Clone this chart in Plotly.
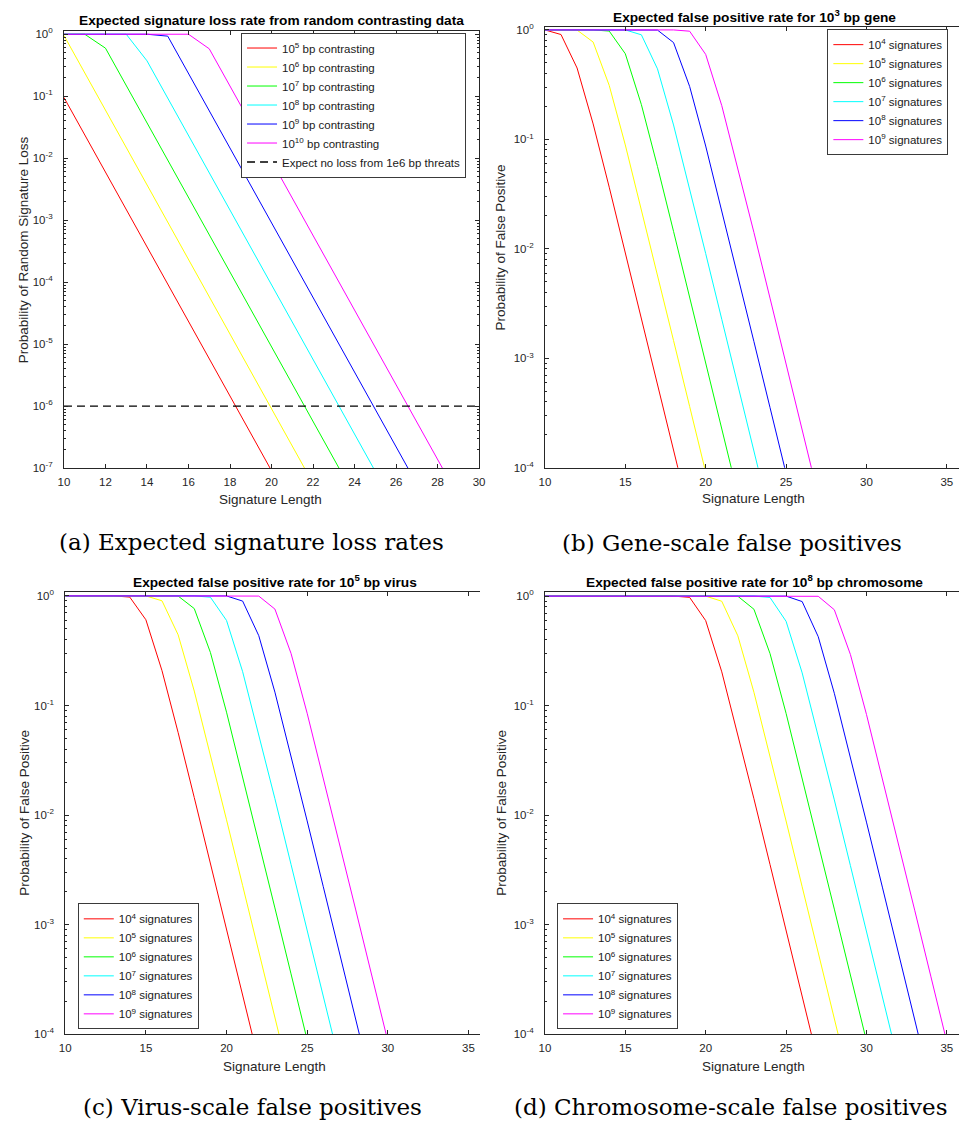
import plotly.graph_objects as go

# ------------------------------------------------------------------ data
# Signature length (x) shared by all panels; each series starts at 10 and is
# listed until it leaves the bottom of its axis.
SIG_LEN = [10, 11, 12, 13, 14, 15, 16, 17, 18, 19, 20, 21, 22, 23, 24, 25,
           26, 27, 28, 29, 30, 31, 32, 33, 34, 35, 36]

# (a) Probability of random signature loss
LOSS_LABELS = ["10<sup>5</sup> bp contrasting", "10<sup>6</sup> bp contrasting",
               "10<sup>7</sup> bp contrasting", "10<sup>8</sup> bp contrasting",
               "10<sup>9</sup> bp contrasting", "10<sup>10</sup> bp contrasting"]
LOSS_1E5 = [0.095367, 0.023842, 5.9605e-3, 1.4901e-3, 3.7253e-4, 9.3132e-5, 2.3283e-5,
            5.8208e-6, 1.4552e-6, 3.6380e-7, 9.0949e-8]
LOSS_1E6 = [0.95367, 0.23842, 0.059605, 0.014901, 3.7253e-3, 9.3132e-4, 2.3283e-4,
            5.8208e-5, 1.4552e-5, 3.6380e-6, 9.0949e-7, 2.2737e-7, 5.6843e-8]
LOSS_1E7 = [1.0, 1.0, 0.59605, 0.14901, 0.037253, 9.3132e-3, 2.3283e-3, 5.8208e-4,
            1.4552e-4, 3.6380e-5, 9.0949e-6, 2.2737e-6, 5.6843e-7, 1.4211e-7, 3.5527e-8]
LOSS_1E8 = [1.0, 1.0, 1.0, 1.0, 0.37253, 0.093132, 0.023283, 5.8208e-3, 1.4552e-3,
            3.6380e-4, 9.0949e-5, 2.2737e-5, 5.6843e-6, 1.4211e-6, 3.5527e-7, 8.8818e-8]
LOSS_1E9 = [1.0, 1.0, 1.0, 1.0, 1.0, 0.93132, 0.23283, 0.058208, 0.014552, 3.6380e-3,
            9.0949e-4, 2.2737e-4, 5.6843e-5, 1.4211e-5, 3.5527e-6, 8.8818e-7, 2.2204e-7,
            5.5511e-8]
LOSS_1E10 = [1.0, 1.0, 1.0, 1.0, 1.0, 1.0, 1.0, 0.58208, 0.14552, 0.036380, 9.0949e-3,
             2.2737e-3, 5.6843e-4, 1.4211e-4, 3.5527e-5, 8.8818e-6, 2.2204e-6, 5.5511e-7,
             1.3878e-7, 3.4694e-8]
THRESHOLD_X = [10, 30]
THRESHOLD_Y = [1e-6, 1e-6]
THRESHOLD_LABEL = "Expect no loss from 1e6 bp threats"

# signature counts for panels (b)-(d)
SIG_LABELS = ["10<sup>4</sup> signatures", "10<sup>5</sup> signatures",
              "10<sup>6</sup> signatures", "10<sup>7</sup> signatures",
              "10<sup>8</sup> signatures", "10<sup>9</sup> signatures"]

# (b) 10^3 bp gene
GENE_1E4 = [0.99993, 0.90784, 0.44902, 0.13844, 0.036568, 9.2700e-3, 2.3256e-3,
            5.8191e-4, 1.4551e-4, 3.6380e-5]
GENE_1E5 = [1.0, 1.0, 0.99742, 0.77465, 0.31101, 0.088927, 0.023014, 5.8039e-3,
            1.4541e-3, 3.6373e-4, 9.0949e-5]
GENE_1E6 = [1.0, 1.0, 1.0, 1.0, 0.97589, 0.60597, 0.20771, 0.056547, 0.014447,
            3.6314e-3, 9.0908e-4, 2.2734e-4, 5.6843e-5]
GENE_1E7 = [1.0, 1.0, 1.0, 1.0, 1.0, 0.99991, 0.90254, 0.44127, 0.13543, 0.035726,
            9.0537e-3, 2.2711e-3, 5.6827e-4, 1.4211e-4, 3.5527e-5]
GENE_1E8 = [1.0, 1.0, 1.0, 1.0, 1.0, 1.0, 1.0, 0.99703, 0.76665, 0.30497, 0.086935,
            0.022481, 5.6682e-3, 1.4201e-3, 3.5521e-4, 8.8818e-5]
GENE_1E9 = [1.0, 1.0, 1.0, 1.0, 1.0, 1.0, 1.0, 1.0, 1.0, 0.97370, 0.59727, 0.20337,
            0.055258, 0.014110, 3.5464e-3, 8.8779e-4, 2.2202e-4, 5.5511e-5]

# (c) 10^5 bp virus
VIRUS_1E4 = [1.0, 1.0, 1.0, 1.0, 0.97589, 0.60597, 0.20771, 0.056547, 0.014447,
             3.6314e-3, 9.0908e-4, 2.2734e-4, 5.6843e-5]
VIRUS_1E5 = [1.0, 1.0, 1.0, 1.0, 1.0, 0.99991, 0.90254, 0.44127, 0.13543, 0.035726,
             9.0537e-3, 2.2711e-3, 5.6827e-4, 1.4211e-4, 3.5527e-5]
VIRUS_1E6 = [1.0, 1.0, 1.0, 1.0, 1.0, 1.0, 1.0, 0.99703, 0.76665, 0.30497, 0.086935,
             0.022481, 5.6682e-3, 1.4201e-3, 3.5521e-4, 8.8818e-5]
VIRUS_1E7 = [1.0, 1.0, 1.0, 1.0, 1.0, 1.0, 1.0, 1.0, 1.0, 0.97370, 0.59727, 0.20337,
             0.055258, 0.014110, 3.5464e-3, 8.8779e-4, 2.2202e-4, 5.5511e-5]
VIRUS_1E8 = [1.0, 1.0, 1.0, 1.0, 1.0, 1.0, 1.0, 1.0, 1.0, 1.0, 0.99989, 0.89707,
             0.43359, 0.13247, 0.034903, 8.8425e-3, 2.2179e-3, 5.5496e-4, 1.3878e-4,
             3.4694e-5]
VIRUS_1E9 = [1.0, 1.0, 1.0, 1.0, 1.0, 1.0, 1.0, 1.0, 1.0, 1.0, 1.0, 1.0, 0.99660,
             0.75855, 0.29902, 0.084988, 0.021959, 5.5357e-3, 1.3868e-3, 3.4688e-4,
             8.6736e-5]

# (d) 10^8 bp chromosome
CHROM_1E4 = [1.0, 1.0, 1.0, 1.0, 1.0, 1.0, 1.0, 1.0, 1.0, 0.97370, 0.59727, 0.20337,
             0.055258, 0.014110, 3.5464e-3, 8.8779e-4, 2.2202e-4, 5.5511e-5]
CHROM_1E5 = [1.0, 1.0, 1.0, 1.0, 1.0, 1.0, 1.0, 1.0, 1.0, 1.0, 0.99989, 0.89707,
             0.43359, 0.13247, 0.034903, 8.8425e-3, 2.2179e-3, 5.5496e-4, 1.3878e-4,
             3.4694e-5]
CHROM_1E6 = [1.0, 1.0, 1.0, 1.0, 1.0, 1.0, 1.0, 1.0, 1.0, 1.0, 1.0, 1.0, 0.99660,
             0.75855, 0.29902, 0.084988, 0.021959, 5.5357e-3, 1.3868e-3, 3.4688e-4,
             8.6736e-5]
CHROM_1E7 = [1.0, 1.0, 1.0, 1.0, 1.0, 1.0, 1.0, 1.0, 1.0, 1.0, 1.0, 1.0, 1.0, 1.0,
             0.97135, 0.58860, 0.19912, 0.053999, 0.013782, 3.4634e-3, 8.6698e-4,
             2.1682e-4, 5.4210e-5]
CHROM_1E8 = [1.0, 1.0, 1.0, 1.0, 1.0, 1.0, 1.0, 1.0, 1.0, 1.0, 1.0, 1.0, 1.0, 1.0,
             1.0, 0.99986, 0.89143, 0.42599, 0.12958, 0.034099, 8.6361e-3, 2.1661e-3,
             5.4195e-4, 1.3553e-4, 3.3881e-5]
CHROM_1E9 = [1.0, 1.0, 1.0, 1.0, 1.0, 1.0, 1.0, 1.0, 1.0, 1.0, 1.0, 1.0, 1.0, 1.0,
             1.0, 1.0, 1.0, 0.99612, 0.75038, 0.29315, 0.083081, 0.021451, 5.4063e-3,
             1.3544e-3, 3.3875e-4, 8.4703e-5]

TITLES = ["Expected signature loss rate from random contrasting data",
          "Expected false positive rate for 10<sup>3</sup> bp gene",
          "Expected false positive rate for 10<sup>5</sup> bp virus",
          "Expected false positive rate for 10<sup>8</sup> bp chromosome"]
CAPTIONS = ["(a) Expected signature loss rates", "(b) Gene-scale false positives",
            "(c) Virus-scale false positives", "(d) Chromosome-scale false positives"]
X_LABEL = "Signature Length"
Y_LABELS = ["Probability of Random Signature Loss", "Probability of False Positive",
            "Probability of False Positive", "Probability of False Positive"]

# ------------------------------------------------------------------ style
W, H = 965, 1131
COLORS = ["#ff0000", "#ffff00", "#00ff00", "#00ffff", "#0000ff", "#ff00ff"]
AX = "#262626"
FONT = "Liberation Sans, Arial, sans-serif"
SERIF = "DejaVu Serif, serif"


def px(x):
    return x / W


def py(y):
    return 1 - y / H


fig = go.Figure()

panels = [
    (LOSS_LABELS, [LOSS_1E5, LOSS_1E6, LOSS_1E7, LOSS_1E8, LOSS_1E9, LOSS_1E10], "x", "y", "legend"),
    (SIG_LABELS, [GENE_1E4, GENE_1E5, GENE_1E6, GENE_1E7, GENE_1E8, GENE_1E9], "x2", "y2", "legend2"),
    (SIG_LABELS, [VIRUS_1E4, VIRUS_1E5, VIRUS_1E6, VIRUS_1E7, VIRUS_1E8, VIRUS_1E9], "x3", "y3", "legend3"),
    (SIG_LABELS, [CHROM_1E4, CHROM_1E5, CHROM_1E6, CHROM_1E7, CHROM_1E8, CHROM_1E9], "x4", "y4", "legend4"),
]
for labels, series, xa, ya, lg in panels:
    for name, vals, col in zip(labels, series, COLORS):
        fig.add_trace(go.Scatter(x=SIG_LEN[:len(vals)], y=vals, name=name, mode="lines",
                                 line=dict(color=col, width=1), xaxis=xa, yaxis=ya,
                                 legend=lg, hoverinfo="skip"))
    if xa == "x":
        fig.add_trace(go.Scatter(x=THRESHOLD_X, y=THRESHOLD_Y, name=THRESHOLD_LABEL,
                                 mode="lines", line=dict(color="black", width=1.3, dash="8px,5px"),
                                 xaxis="x", yaxis="y", legend="legend", hoverinfo="skip"))

# geometry (pixels) of each axes box: left, right, top, bottom
boxes = [(58.7, 479.0, 26.7, 467.7), (545.7, 965.0, 22.3, 467.3),
         (60.0, 480.0, 592.3, 1039.3), (545.7, 965.0, 592.7, 1039.3)]
xranges = [[10, 30], [10, 35.755], [10, 35.72], [10, 35.755]]
xdticks = [2, 5, 5, 5]
ytops = [0.045, 0.026, 0.04, 0.038]
ybottoms = [-7, -4, -4, -4]

layout = {}
for i, ((l, r, t, b), xr, dt, yt, yb) in enumerate(zip(boxes, xranges, xdticks, ytops, ybottoms)):
    sfx = "" if i == 0 else str(i + 1)
    exps = list(range(yb, 1))
    major = [10.0 ** e for e in exps]
    ttext = ["10<sup>%d</sup>" % e for e in exps]
    minor = [m * 10.0 ** e for e in range(yb, 0) for m in range(2, 10)]
    layout["xaxis" + sfx] = dict(
        domain=[px(l), px(r)], range=xr, anchor="y" + sfx, tickmode="linear", tick0=10, dtick=dt,
        ticks="inside", ticklen=4, tickwidth=1, tickcolor=AX, showline=True, linecolor=AX,
        linewidth=1, mirror="ticks", showgrid=False, zeroline=False,
        tickfont=dict(family=FONT, size=11.5, color=AX), ticklabelstandoff=3)
    layout["yaxis" + sfx] = dict(
        domain=[py(b), py(t)], type="log", range=[yb, yt], anchor="x" + sfx,
        tickmode="array", tickvals=major, ticktext=ttext,
        ticks="inside", ticklen=4, tickwidth=1, tickcolor=AX, showline=True, linecolor=AX,
        linewidth=1, mirror="ticks" if i == 0 else False, showgrid=False, zeroline=False,
        tickfont=dict(family=FONT, size=11.5, color=AX), ticklabelstandoff=8,
        minor=dict(ticks="inside", ticklen=2, tickwidth=1, tickcolor=AX, tickmode="array",
                   tickvals=minor, showgrid=False))

legend_pos = [(238, 101), (831.7, 88), (72.7, 970.8), (558, 970.8)]
for i, (lx, ly) in enumerate(legend_pos):
    key = "legend" if i == 0 else "legend%d" % (i + 1)
    layout[key] = dict(x=px(lx), y=py(ly), xanchor="left", yanchor="middle",
                       bgcolor="white", bordercolor="#3a3a3a", borderwidth=1,
                       font=dict(family=FONT, size=11.5, color="#1a1a1a"),
                       tracegroupgap=0, itemclick=False)

ann = []
title_pos = [(268.5, 16), (758, 11), (272.5, 582), (758, 581.5)]
for txt, (x, y) in zip(TITLES, title_pos):
    ann.append(dict(text="<b>%s</b>" % txt, x=px(x), y=py(y), xref="paper", yref="paper",
                    xanchor="center", yanchor="middle", showarrow=False,
                    font=dict(family=FONT, size=13.7, color="black")))
xlab_pos = [(268, 499), (757, 498.5), (272, 1071.5), (757, 1071.5)]
for x, y in xlab_pos:
    ann.append(dict(text=X_LABEL, x=px(x), y=py(y), xref="paper", yref="paper",
                    xanchor="center", yanchor="middle", showarrow=False,
                    font=dict(family=FONT, size=13.5, color=AX)))
ylab_pos = [(18, 247), (501, 245), (18, 816), (501, 816)]
for txt, (x, y) in zip(Y_LABELS, ylab_pos):
    ann.append(dict(text=txt, x=px(x), y=py(y), xref="paper", yref="paper", textangle=-90,
                    xanchor="center", yanchor="middle", showarrow=False,
                    font=dict(family=FONT, size=13.5, color=AX)))
cap_pos = [(249, 542), (735, 543), (249.5, 1113), (734, 1113)]
for txt, (x, y) in zip(CAPTIONS, cap_pos):
    ann.append(dict(text=txt, x=px(x), y=py(y), xref="paper", yref="paper",
                    xanchor="center", yanchor="middle", showarrow=False,
                    font=dict(family=SERIF, size=23, color="black")))

fig.update_layout(width=W, height=H, margin=dict(l=0, r=0, t=0, b=0),
                  paper_bgcolor="white", plot_bgcolor="white", showlegend=True,
                  annotations=ann, **layout)

fig.write_html("out.html")
